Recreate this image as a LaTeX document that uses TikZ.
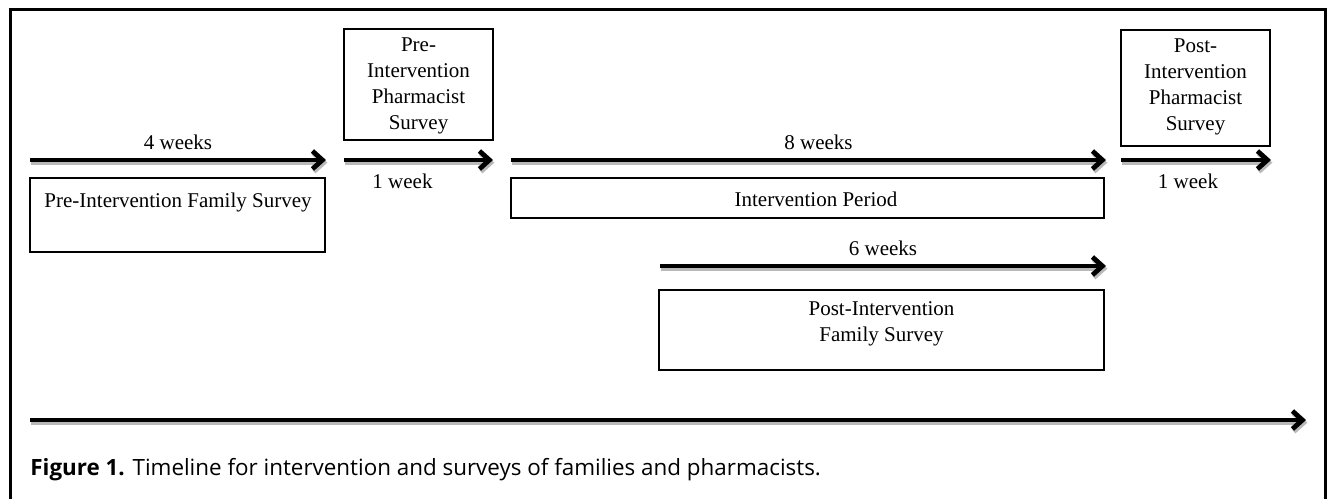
\documentclass[tikz,border=0pt]{standalone}
\usepackage{fontspec}
\setmainfont{Liberation Serif}
\newfontfamily\capfont{Open Sans}
\usetikzlibrary{arrows.meta,positioning}

\tikzset{
	tl/.style={-{Straight Barb[length=5pt,width=9pt]}, line width=2.4pt,
		preaction={draw=gray!55, line width=2.4pt, transform canvas={xshift=0.7pt,yshift=-1.3pt}}},
	period/.style={draw, line width=0.9pt, inner sep=0pt},
	lbl/.style={font=\fontsize{10.5}{13}\selectfont, inner sep=1pt},
	survey/.style={lbl, align=center}
}

\begin{document}
\begin{tikzpicture}[x=0.5pt,y=-0.5pt]
		\useasboundingbox (0,0) rectangle (1327,499);
		% outer frame
		\draw[line width=1.2pt] (10.5,499) -- (10.5,9.5) -- (1325.5,9.5) -- (1325.5,499);

		% arrow ends
		\coordinate (a1s) at (30,160);   \coordinate (a1e) at (326,160);
		\coordinate (a2s) at (344,160);  \coordinate (a2e) at (493,160);
		\coordinate (a3s) at (511,160);  \coordinate (a3e) at (1106,160);
		\coordinate (a4s) at (1121,160); \coordinate (a4e) at (1271,160);
		\coordinate (a5s) at (660,266);  \coordinate (a5e) at (1106,266);
		\coordinate (a6s) at (30,420);   \coordinate (a6e) at (1306,420);

		% boxes
		\draw (177.5,215) node [period, minimum width=147.5pt, minimum height=37pt] (pfs) {};
		\draw (418.5,84.5) node [period, minimum width=74.5pt, minimum height=55.5pt] (pps) {};
		\draw (807.5,198) node [period, minimum width=296.5pt, minimum height=20pt] (ip) {};
		\draw (1195.5,88) node [period, minimum width=74.5pt, minimum height=58pt] (qps) {};
		\draw (881.5,330) node [period, minimum width=222.5pt, minimum height=40pt] (qfs) {};

		% texts in boxes
		\draw (178,202) node [lbl] (pfst) {Pre-Intervention Family Survey};
		\draw (418.5,86) node [survey] (ppst) {Pre-\\Intervention\\Pharmacist\\Survey};
		\draw (816,199) node [lbl] (ipt) {Intervention Period};
		\draw (1195.5,87) node [survey] (qpst) {Post-\\Intervention\\Pharmacist\\Survey};
		\draw (881.5,324) node [survey] (qfst) {Post-Intervention\\Family Survey};

		\draw
			(a1s) edge [tl] node [lbl, above=3pt] {4 weeks} (a1e)
			(a2s) edge [tl] node [lbl, below=5pt, xshift=-8pt] {1 week} (a2e)
			(a3s) edge [tl] node [lbl, above=3pt, xshift=5pt] {8 weeks} (a3e)
			(a4s) edge [tl] node [lbl, below=5pt, xshift=-4pt] {1 week} (a4e)
			(a5s) edge [tl] node [lbl, above=3pt] {6 weeks} (a5e)
			(a6s) edge [tl] (a6e)
		;

		\draw (30,470) node [anchor=west, inner sep=0pt, font=\capfont\fontsize{11.2}{13}\selectfont] (cap)
			{\textbf{Figure 1.} Timeline for intervention and surveys of families and pharmacists.};
	\end{tikzpicture}
\end{document}
